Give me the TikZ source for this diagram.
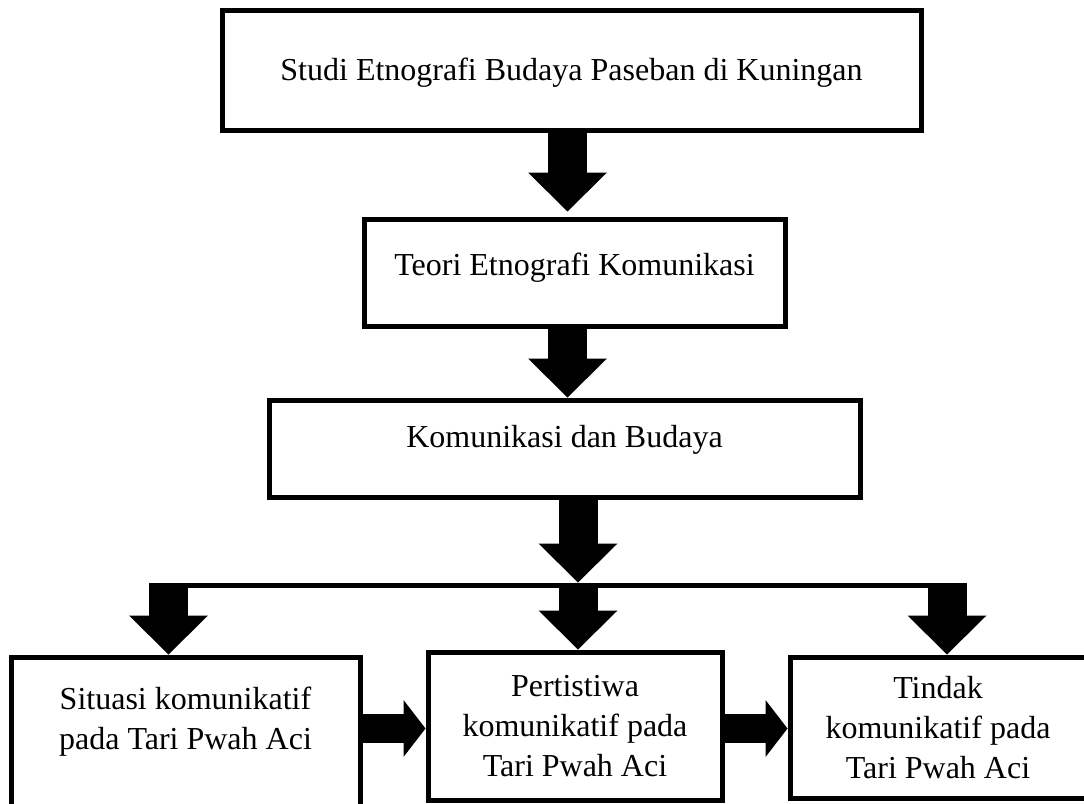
\documentclass[tikz,border=0pt]{standalone}
\usepackage{fontspec}
\setmainfont{Liberation Serif}
\usetikzlibrary{arrows.meta}

\begin{document}
\begin{tikzpicture}[x=1pt, y=-1pt, font=\fontsize{32}{40}\selectfont]

        % Setup the styles for the boxes and the arrows
        \tikzset{box style/.style={draw, rectangle,
                                   line width=5pt,
                                   inner sep=0pt,
                                   align=center},
                 one line/.style={box style, text height=22pt},
                 down arrow/.style={line width=39pt,
                                    -{Triangle[length=39pt, width=79pt, line width=0pt]}},
                 side arrow/.style={line width=29pt,
                                    -{Triangle[length=22pt, width=57pt, line width=0pt]}}}

        \useasboundingbox (0, 0) rectangle (1084, 803);

        % Draw the boxes
        \node[one line, minimum width=699pt, minimum height=120pt, text depth=2pt]
                                at (571.5, 70)     (studi)      {Studi Etnografi Budaya Paseban di Kuningan};
        \node[one line, minimum width=421pt, minimum height=107pt, text depth=17pt]
                                at (574.5, 272.5)  (teori)      {Teori Etnografi Komunikasi};
        \node[one line, minimum width=591pt, minimum height=97pt, text depth=25pt]
                                at (564.5, 448.5)  (komunikasi) {Komunikasi dan Budaya};
        \node[box style, minimum width=349pt, minimum height=149pt]
                                at (185.5, 731.5)  (situasi)    {Situasi komunikatif\\pada Tari Pwah Aci\rule[-27pt]{0pt}{0pt}};
        \node[box style, minimum width=294pt, minimum height=148pt]
                                at (575, 726)      (peristiwa)  {Pertistiwa\\komunikatif pada\\Tari Pwah Aci};
        \node[box style, minimum width=296pt, minimum height=141pt]
                                at (938, 727.5)    (tindak)     {Tindak\\komunikatif pada\\Tari Pwah Aci};

        % Points of the spine, the bar and the drops
        \coordinate (spine)  at (567.5, 0);
        \coordinate (bar)    at (578, 585);
        \coordinate (barL)   at (149, 585);
        \coordinate (barR)   at (966, 585);
        \coordinate (dropL)  at (168.5, 582.5);
        \coordinate (dropR)  at (947, 582.5);
        \coordinate (midrow) at (0, 728.5);

        % Connect the boxes with arrows
        \draw[down arrow, shorten >=5pt] (studi.south -| spine) -- (teori.north -| spine);
        \draw[down arrow] (teori.south -| spine) -- (komunikasi.north -| spine);
        \draw[down arrow, shorten >=2.5pt] (komunikasi.south -| bar) -- (bar);
        \draw[line width=5pt] (barL) -- (barR);
        \draw[down arrow] (dropL) -- (dropL |- situasi.north);
        \draw[down arrow] (bar) -- (bar |- peristiwa.north);
        \draw[down arrow] (dropR) -- (dropR |- tindak.north);
        \draw[side arrow] (situasi.east |- midrow) -- (peristiwa.west |- midrow);
        \draw[side arrow] (peristiwa.east |- midrow) -- (tindak.west |- midrow);
\end{tikzpicture}
\end{document}
